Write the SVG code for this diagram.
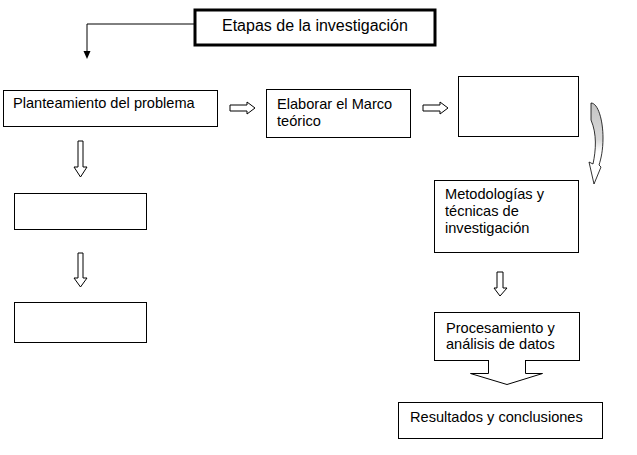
<svg xmlns="http://www.w3.org/2000/svg" width="637" height="455" viewBox="0 0 637 455">
<style>
.box{fill:#fff;stroke:#000;stroke-width:1}
.t{font-family:"Liberation Sans",Arial,sans-serif;font-size:14.6px;fill:#000}
.ha{fill:#fff;stroke:#000;stroke-width:1;stroke-linejoin:miter}
</style>
<defs>
<linearGradient id="cg" x1="0" y1="0" x2="0" y2="1">
<stop offset="0" stop-color="#c4c4c4"/>
<stop offset="0.45" stop-color="#d8d8d8"/>
<stop offset="0.6" stop-color="#fff"/>
<stop offset="1" stop-color="#fff"/>
</linearGradient>
</defs>
<rect width="637" height="455" fill="#fff"/>

<g id="connectors">
<path d="M194,24 H87 V52" fill="none" stroke="#000" stroke-width="1"/>
<path d="M83.5,51 L90.5,51 L87,59 Z" fill="#000"/>
<path class="ha" d="M230,105 H247 V102 L255,108 L247,114 V111 H230 Z"/>
<path class="ha" d="M423,105 H440 V102 L448,108 L440,114 V111 H423 Z"/>
<path class="ha" d="M78,141 H83 V167 H87 L80.5,177 L74,167 H78 Z"/>
<path class="ha" d="M78,253 H83 V278 H87 L80.5,287 L74,278 H78 Z"/>
<path class="ha" d="M497,272 H503 V288 H507 L500,296 L494,288 H497 Z"/>
<path d="M591,103 C598,103 603,120 603,138 C603,150 601,159 599,165 L601,167 L594,184 L589,162 L593,164 C596,150 597,134 591,120 Z" fill="url(#cg)" stroke="#000" stroke-width="0.8"/>
</g>

<g id="title">
<rect x="195" y="10" width="240" height="35" fill="#fff" stroke="#000" stroke-width="3"/>
<text x="222" y="31" style="font-family:'Liberation Sans',Arial,sans-serif;font-size:16px">Etapas de la investigación</text>
</g>

<g id="planteamiento">
<rect class="box" x="3.5" y="90.5" width="214" height="36"/>
<text class="t" x="13" y="108">Planteamiento del problema</text>
</g>

<g id="marco">
<rect class="box" x="266.5" y="89.5" width="144" height="48"/>
<text class="t" x="277" y="109">Elaborar el Marco</text>
<text class="t" x="277" y="126">teórico</text>
</g>

<g id="empty-top-right">
<rect class="box" x="458.5" y="76.5" width="120" height="60"/>
</g>

<g id="empty-left-1">
<rect class="box" x="14.5" y="193.5" width="132" height="36"/>
</g>

<g id="empty-left-2">
<rect class="box" x="14.5" y="302.5" width="132" height="40"/>
</g>

<g id="metodologias">
<rect class="box" x="434.5" y="180.5" width="144" height="72"/>
<text class="t" x="445" y="199">Metodologías y</text>
<text class="t" x="445" y="216">técnicas de</text>
<text class="t" x="445" y="233">investigación</text>
</g>

<g id="procesamiento">
<rect class="box" x="434.5" y="312.5" width="145" height="48"/>
<text class="t" x="446" y="333">Procesamiento y</text>
<text class="t" x="446" y="349">análisis de datos</text>
<rect x="489" y="355" width="36" height="7" fill="#fff"/>
<path d="M488.5,360 V373.5 H470.5 L507,384.5 L542.5,373.5 H525.5 V360" fill="#fff" stroke="#000" stroke-width="1"/>
</g>

<g id="resultados">
<rect class="box" x="398.5" y="402.5" width="204" height="36"/>
<text class="t" x="410" y="422">Resultados y conclusiones</text>
</g>
</svg>
